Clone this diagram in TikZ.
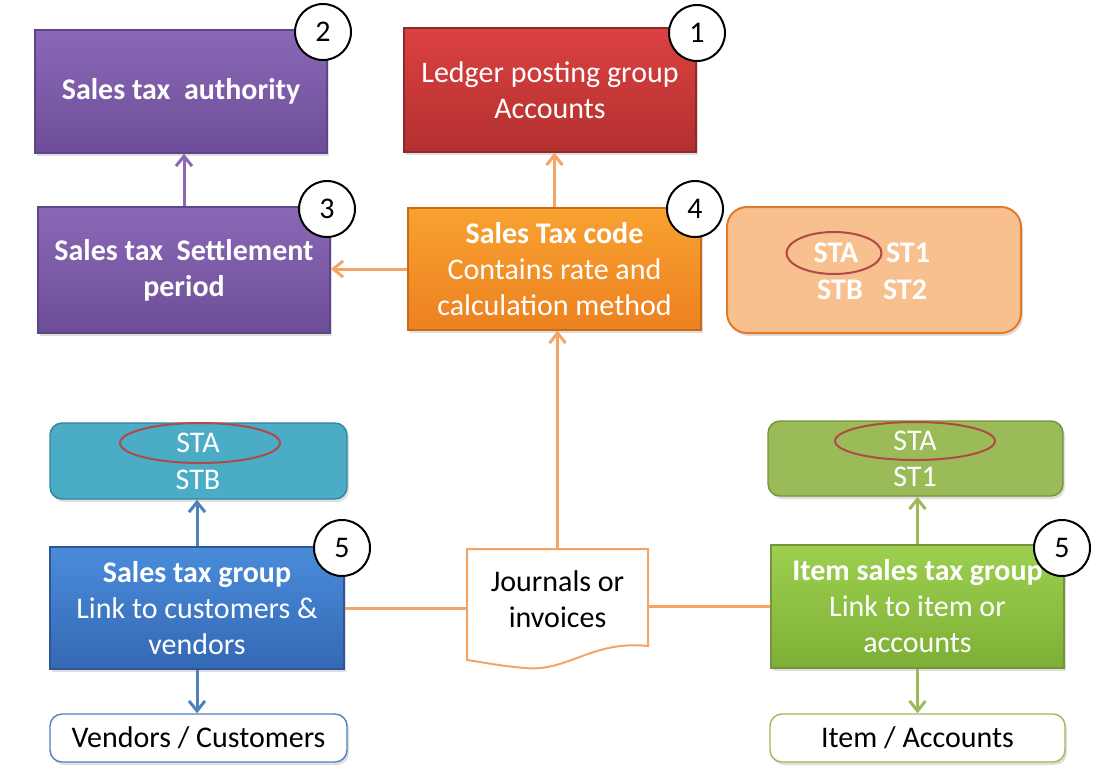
\documentclass[tikz,border=0pt]{standalone}
\usepackage{fontspec}
\setmainfont{Carlito}
\usetikzlibrary{shapes.geometric,arrows.meta,shadows}
\definecolor{purpA}{HTML}{8A68B6}
\definecolor{purpB}{HTML}{6D4D98}
\definecolor{purpL}{HTML}{5E4587}
\definecolor{redA}{HTML}{DB4141}
\definecolor{redB}{HTML}{B3302F}
\definecolor{redL}{HTML}{8C2A2A}
\definecolor{orA}{HTML}{F8A231}
\definecolor{orB}{HTML}{EC8120}
\definecolor{orL}{HTML}{C86A16}
\definecolor{peach}{HTML}{F9C08F}
\definecolor{peachL}{HTML}{E27A26}
\definecolor{tealF}{HTML}{4BACC6}
\definecolor{tealL}{HTML}{31859C}
\definecolor{bluA}{HTML}{4A8CDA}
\definecolor{bluB}{HTML}{3468B4}
\definecolor{bluL}{HTML}{2F5597}
\definecolor{grnA}{HTML}{9DD04F}
\definecolor{grnB}{HTML}{7DAF36}
\definecolor{grnF}{HTML}{9BBB59}
\definecolor{grnL}{HTML}{76923C}
\definecolor{wire}{HTML}{F2A566}
\definecolor{wireB}{HTML}{4F81BD}
\definecolor{ringred}{HTML}{B04A45}

\begin{document}
\begin{tikzpicture}[x=0.5pt,y=-0.5pt]
  \tikzset{box/.style={rectangle,draw,text=white,align=center,line width=0.7pt,
      font=\fontsize{15}{18}\selectfont,
      drop shadow={shadow xshift=1pt,shadow yshift=-1.5pt,opacity=0.25}},
    plain/.style={box,fill=white,text=black,rounded corners=6pt,minimum height=24pt},
    tag/.style={circle,draw=black,fill=white,line width=1pt,minimum size=28pt,
      inner sep=0pt,font=\fontsize{15}{15}\selectfont},
    codetxt/.style={text=white,font=\fontsize{15}{15}\selectfont\bfseries},
    listtxt/.style={text=white,font=\fontsize{15}{15}\selectfont},
    ring/.style={ellipse,draw=ringred,line width=1pt,inner sep=0pt},
    link/.style={line width=1.5pt,-{Straight Barb[length=5pt,width=8pt]}},
    wireline/.style={line width=1.5pt,draw=wire}}
  \useasboundingbox (0,0) rectangle (1111,777);

  \node[box,draw=purpL,top color=purpA,bottom color=purpB,minimum width=146pt,minimum height=61.5pt]
    (auth) at (181,91.5) {\bfseries Sales tax\ \ authority};
  \node[box,draw=redL,top color=redA,bottom color=redB,minimum width=146pt,minimum height=62pt]
    (ledger) at (550,90) {Ledger posting group\\Accounts};
  \node[box,draw=purpL,top color=purpA,bottom color=purpB,minimum width=146pt,minimum height=63pt]
    (settle) at (184,270) {\bfseries Sales tax\ \ Settlement\\\bfseries period};
  \node[box,draw=orL,top color=orA,bottom color=orB,minimum width=146.5pt,minimum height=61pt]
    (code) at (554.5,269) {\bfseries Sales Tax code\\Contains rate and\\calculation method};
  \node[box,draw=peachL,fill=peach,rounded corners=10pt,line width=1pt,minimum width=147pt,minimum height=63pt]
    (codelist) at (874,270) {};
  \node[codetxt] (sta) at (836,253) {STA};
  \node[codetxt] (st1) at (908,253) {ST1};
  \node[codetxt] (stb) at (840,290) {STB};
  \node[codetxt] (st2) at (905,290) {ST2};
  \node[ring,minimum width=47.5pt,minimum height=21pt] (ringa) at (834,253) {};

  \node[box,draw=tealL,fill=tealF,rounded corners=6pt,minimum width=148.5pt,minimum height=38pt]
    (teal) at (198.5,461) {};
  \node[listtxt] (tsta) at (198,443) {STA};
  \node[listtxt] (tstb) at (198,480) {STB};
  \node[ring,minimum width=80pt,minimum height=20pt] (ringb) at (200,443) {};

  \node[box,draw=bluL,top color=bluA,bottom color=bluB,minimum width=147pt,minimum height=61pt]
    (stgroup) at (197,608) {\bfseries Sales tax group\\Link to customers \&\\vendors};
  \node[plain,draw=wireB,minimum width=148.5pt] (vend) at (198.5,738) {Vendors / Customers};

  \draw[line width=1pt,draw=wire,fill=white] (467,549) -- (648,549) -- (648,646)
    .. controls (592,640) and (568,672) .. (525,668)
    .. controls (500,666) and (482,662) .. (467,660) -- cycle;
  \node[text=black,align=center,font=\fontsize{15}{18}\selectfont,minimum width=90.5pt,minimum height=50pt]
    (journ) at (557.5,599) {Journals or\\invoices};

  \node[box,draw=grnL,fill=grnF,rounded corners=6pt,minimum width=147.5pt,minimum height=37.5pt]
    (green) at (915.5,458.5) {};
  \node[listtxt] (gsta) at (915,441) {STA};
  \node[listtxt] (gst1) at (915,477) {ST1};
  \node[ring,minimum width=80pt,minimum height=19pt] (ringc) at (915,441) {};

  \node[box,draw=grnL,top color=grnA,bottom color=grnB,minimum width=146.5pt,minimum height=61.5pt]
    (itemgrp) at (917.5,606.5) {\bfseries Item sales tax group\\Link to item or\\accounts};
  \node[plain,draw=grnF,minimum width=147.5pt] (itemacc) at (917.5,738) {Item / Accounts};

  \draw[link,draw=purpA] (settle.north) -- (settle.north |- auth.south);
  \draw[link,draw=wire] (code.north) -- (code.north |- ledger.south);
  \draw[link,draw=wire] (code.west) -- (code.west -| settle.east);
  \draw[link,draw=wire] (journ.north) -- (journ.north |- code.south);
  \draw[wireline] (stgroup.east) -- (stgroup.east -| journ.west);
  \draw[wireline] (itemgrp.west -| journ.east) -- (itemgrp.west);
  \draw[link,draw=wireB] (stgroup.north) -- (stgroup.north |- teal.south);
  \draw[link,draw=wireB] (stgroup.south) -- (stgroup.south |- vend.north);
  \draw[link,draw=grnF] (itemgrp.north) -- (itemgrp.north |- green.south);
  \draw[link,draw=grnF] (itemgrp.south) -- (itemgrp.south |- itemacc.north);

  \node[tag] (tag2) at (323,32) {2};
  \node[tag] (tag1) at (697,33) {1};
  \node[tag] (tag3) at (327,209) {3};
  \node[tag] (tag4) at (695,209) {4};
  \node[tag] (tag5a) at (342,548) {5};
  \node[tag] (tag5b) at (1062,548) {5};
\end{tikzpicture}
\end{document}
